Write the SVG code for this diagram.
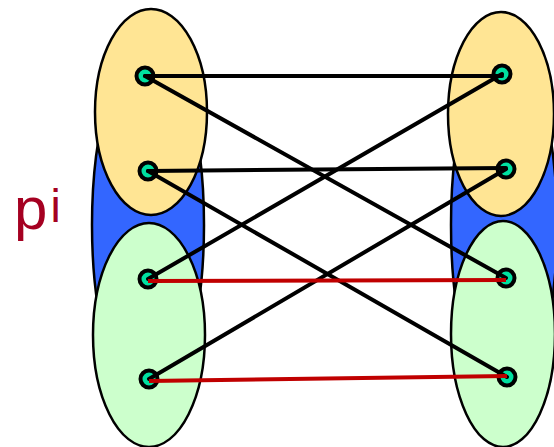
<svg xmlns="http://www.w3.org/2000/svg" width="554" height="447" viewBox="0 0 554 447">
<style>
.set{stroke:#000;stroke-width:2.5}
.blue{fill:#3366ff}
.yel{fill:#ffe594}
.grn{fill:#ccffcc}
.node{fill:#00e0a0;stroke:#000;stroke-width:4}
.e{stroke:#000;stroke-width:4;stroke-linecap:round}
.r{stroke:#c00000;stroke-width:4}
.lbl{font-family:"Liberation Sans",Arial,sans-serif;fill:#a50021}
</style>
<rect width="554" height="447" fill="#fff"/>
<g id="left-set">
<ellipse class="set blue" cx="148" cy="225" rx="56" ry="180"/>
<ellipse class="set yel" cx="151" cy="112" rx="56" ry="103"/>
<ellipse class="set grn" cx="149" cy="335" rx="56" ry="112"/>
</g>
<g id="right-set">
<ellipse class="set blue" cx="504" cy="225" rx="53" ry="180"/>
<ellipse class="set yel" cx="501" cy="114" rx="53" ry="102"/>
<ellipse class="set grn" cx="503" cy="334" rx="52" ry="113"/>
</g>
<g id="label"><text class="lbl" x="14" y="229" font-size="60">p<tspan font-size="46" dx="3" dy="-7">i</tspan></text></g>
<g id="L1"><circle class="node" cx="145" cy="76" r="8.5"/></g>
<g id="L2"><circle class="node" cx="148" cy="171" r="8.5"/></g>
<g id="L3"><circle class="node" cx="148" cy="279" r="8.5"/></g>
<g id="L4"><circle class="node" cx="149" cy="379" r="8.5"/></g>
<g id="R1"><circle class="node" cx="502" cy="74" r="8.5"/></g>
<g id="R2"><circle class="node" cx="506" cy="169" r="8.5"/></g>
<g id="R3"><circle class="node" cx="506" cy="278" r="8.5"/></g>
<g id="R4"><circle class="node" cx="507" cy="377" r="8.5"/></g>
<g id="connectors">
<line class="e" x1="145" y1="76" x2="502" y2="76"/>
<line class="e" x1="145" y1="76" x2="506" y2="278"/>
<line class="e" x1="148" y1="171" x2="506" y2="168"/>
<line class="e" x1="148" y1="171" x2="507" y2="377"/>
<line class="e" x1="148" y1="279" x2="502" y2="74"/>
<line class="e" x1="149" y1="379" x2="506" y2="169"/>
<line class="r" x1="148" y1="281" x2="506" y2="280"/>
<line class="r" x1="149" y1="381" x2="507" y2="376"/>
</g>
</svg>
